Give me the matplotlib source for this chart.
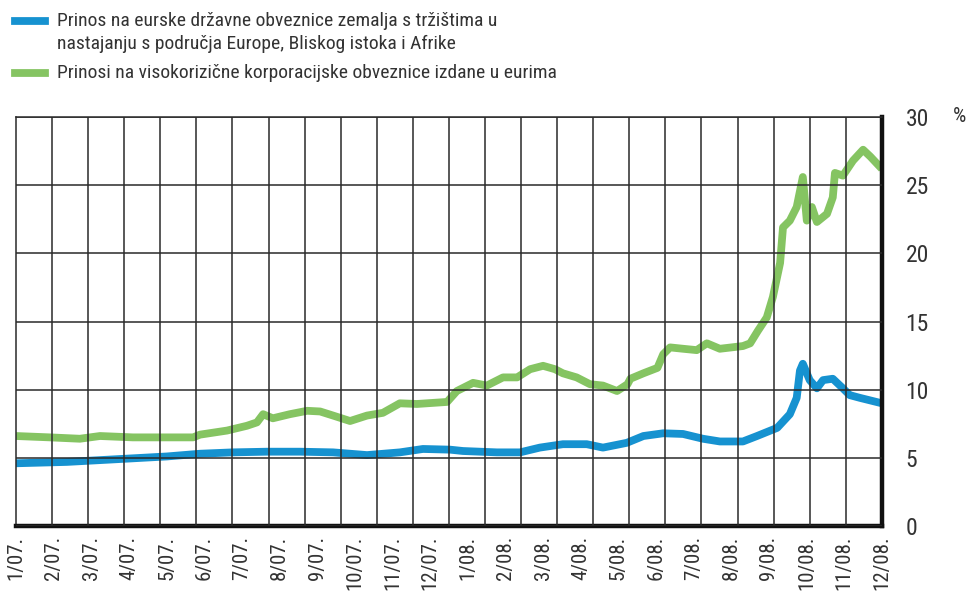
import numpy as np
import matplotlib
matplotlib.use("Agg")
import matplotlib.pyplot as plt
from matplotlib.lines import Line2D

plt.rcParams['font.family'] = ['Roboto Condensed', 'Liberation Sans', 'DejaVu Sans']

# mjeseci od 1/07. do 12/08.
month_labels = ['1/07.', '2/07.', '3/07.', '4/07.', '5/07.', '6/07.', '7/07.', '8/07.',
                '9/07.', '10/07.', '11/07.', '12/07.', '1/08.', '2/08.', '3/08.', '4/08.',
                '5/08.', '6/08.', '7/08.', '8/08.', '9/08.', '10/08.', '11/08.', '12/08.']

# prinos na eurske drzavne obveznice (EMBI Europa, Bliski istok, Afrika), polozaj u mjesecima
blue_x = [0.00, 1.41, 2.80, 4.18, 5.10, 6.01, 6.96, 7.87, 8.79, 9.73, 10.64, 11.28,
          12.03, 12.39, 13.33, 13.97, 14.52, 15.16, 15.82, 16.27, 16.93, 17.39, 17.94,
          18.49, 19.04, 19.51, 20.15, 20.54, 21.10, 21.45, 21.64, 21.73, 21.81, 22.00,
          22.20, 22.37, 22.64, 22.92, 23.11, 23.39, 24.00]
blue_y = [4.6, 4.7, 4.9, 5.1, 5.3, 5.4, 5.45, 5.45, 5.4, 5.2, 5.4, 5.65,
          5.6, 5.5, 5.4, 5.4, 5.75, 6.0, 6.0, 5.75, 6.1, 6.6, 6.8,
          6.75, 6.4, 6.2, 6.2, 6.6, 7.2, 8.2, 9.4, 11.4, 11.9, 10.7,
          10.1, 10.7, 10.8, 10.1, 9.6, 9.4, 9.0]

# prinosi na visokorizicne korporacijske obveznice u eurima
green_x = [0.00, 0.94, 1.77, 2.33, 3.24, 4.18, 4.91, 5.10, 5.85, 6.40, 6.68, 6.85,
           7.12, 7.59, 8.07, 8.43, 8.79, 9.26, 9.73, 10.17, 10.64, 11.11, 11.95, 12.22,
           12.67, 13.05, 13.50, 13.89, 14.25, 14.61, 14.94, 15.16, 15.54, 15.91, 16.27,
           16.66, 16.95, 17.03, 17.39, 17.78, 17.94, 18.13, 18.49, 18.87, 19.15, 19.51,
           20.15, 20.35, 20.56, 20.81, 20.98, 21.18, 21.26, 21.45, 21.64, 21.81, 21.92,
           22.06, 22.20, 22.48, 22.64, 22.70, 22.92, 23.20, 23.48, 23.68, 24.00]
green_y = [6.6, 6.5, 6.4, 6.6, 6.5, 6.5, 6.5, 6.7, 7.0, 7.35, 7.6, 8.2,
           7.9, 8.2, 8.45, 8.4, 8.1, 7.7, 8.1, 8.3, 9.0, 8.95, 9.1, 9.9,
           10.5, 10.3, 10.9, 10.9, 11.5, 11.75, 11.5, 11.2, 10.9, 10.4, 10.3,
           9.9, 10.4, 10.8, 11.2, 11.6, 12.6, 13.1, 13.0, 12.9, 13.4, 13.0,
           13.2, 13.4, 14.3, 15.3, 16.8, 19.3, 21.9, 22.4, 23.4, 25.6, 22.4,
           23.4, 22.3, 22.9, 24.1, 25.9, 25.7, 26.8, 27.6, 27.1, 26.2]

y_ticks = [0, 5, 10, 15, 20, 25, 30]

blue = '#1692d0'
green = '#85c462'
txt = '#333333'

fig = plt.figure(figsize=(9.68, 5.94), dpi=100)
ax = fig.add_axes([0.0165, 0.1145, 0.8945, 0.6885])

ax.plot(blue_x, blue_y, color=blue, lw=5.6, solid_joinstyle='round', solid_capstyle='butt')
ax.plot(green_x, green_y, color=green, lw=5.6, solid_joinstyle='round', solid_capstyle='butt')

ax.set_xlim(0, 24)
ax.set_ylim(0, 30)

# mreza: crte za svaki mjesec i svakih 5 postotnih bodova, iznad linija
ax.set_axisbelow(False)
ax.set_xticks(np.arange(0, 25), minor=True)
ax.set_yticks(y_ticks)
ax.grid(True, which='minor', axis='x', color='#2a2a2a', lw=1.1)
ax.grid(True, which='major', axis='y', color='#2a2a2a', lw=1.1)

# oznake mjeseci rasporedjene od lijevog do desnog ruba
ax.set_xticks(np.linspace(0, 24, len(month_labels)))
ax.set_xticklabels(month_labels, rotation=90, fontsize=15, color=txt)
ax.tick_params(axis='x', which='both', length=0, pad=7)

ax.yaxis.tick_right()
ax.set_yticklabels([str(t) for t in y_ticks], fontsize=17, color=txt, ha='left')
ax.tick_params(axis='y', length=0, pad=17)

for s in ['top', 'left']:
    ax.spines[s].set_linewidth(1.1)
    ax.spines[s].set_color('#2a2a2a')
for s in ['bottom', 'right']:
    ax.spines[s].set_linewidth(3.2)
    ax.spines[s].set_color('#111111')

fig.text(959 / 968, 1 - 116 / 594, '%', fontsize=15, color=txt, ha='center', va='center')

# legenda
fig.add_artist(Line2D([15 / 968, 45 / 968], [1 - 21 / 594] * 2, color=blue, lw=5.6))
fig.add_artist(Line2D([15 / 968, 45 / 968], [1 - 73 / 594] * 2, color=green, lw=5.6))
fig.text(57 / 968, 1 - 21 / 594, 'Prinos na eurske državne obveznice zemalja s tržištima u',
         fontsize=14, color=txt, va='center')
fig.text(57 / 968, 1 - 44 / 594, 'nastajanju s područja Europe, Bliskog istoka i Afrike',
         fontsize=14, color=txt, va='center')
fig.text(57 / 968, 1 - 73 / 594, 'Prinosi na visokorizične korporacijske obveznice izdane u eurima',
         fontsize=14, color=txt, va='center')

fig.savefig('out.png', dpi=100)
